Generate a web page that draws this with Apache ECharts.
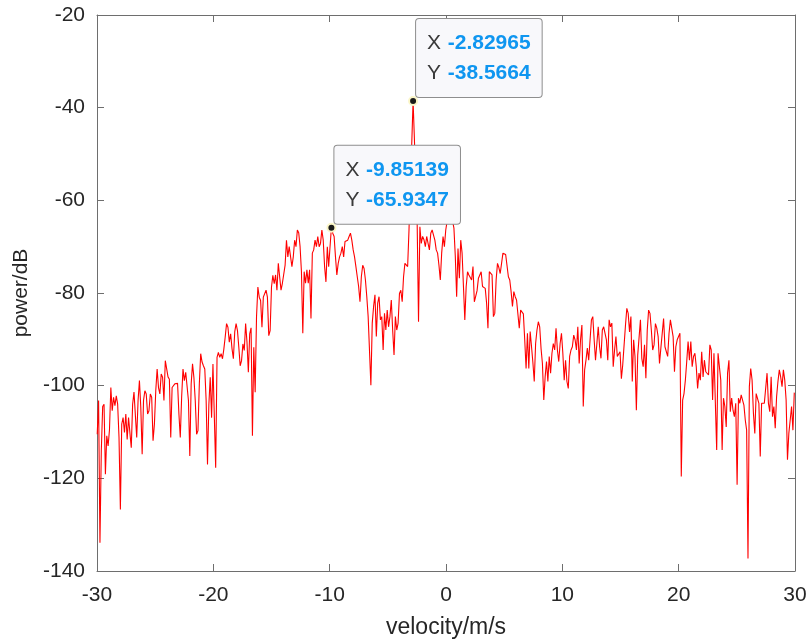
<!DOCTYPE html>
<html>
<head>
<meta charset="utf-8">
<script src="https://cdn.jsdelivr.net/npm/echarts@6/dist/echarts.min.js"></script>
<style>
  html, body { margin: 0; padding: 0; background: #fff; }
  #main { width: 810px; height: 641px; }
</style>
</head>
<body>
<div id="main"></div>
<script>
// velocity grid (m/s): evenly spaced bins
var velStart = -29.98038;
var velStep = 0.117029;

// power (dB) per velocity bin
var power = [
  -110.5,-103.2,-133.9,-114,-104.5,-104,-119.1,-110.8,-113,-109.5,
  -100.4,-105.4,-102.5,-104.3,-102.2,-104,-111.2,-126.7,-108.3,-106.9,
  -110.1,-106.1,-111.6,-106.9,-107.2,-113.4,-104,-101.4,-101.1,-111.2,
  -103.2,-98.9,-104.7,-114.8,-103.2,-101.1,-101.8,-106.1,-105.4,-101.8,
  -102.5,-111.9,-108.3,-101.1,-96.4,-100.4,-101.8,-97.5,-98.2,-103.2,
  -94.6,-94.2,-98.1,-98.6,-111.2,-100.4,-100,-99.6,-99.5,-99.5,
  -106.1,-111.2,-102.5,-96.4,-98.9,-97.1,-97.1,-103.2,-115.2,-99.6,
  -95.3,-98.2,-103.2,-110.5,-109.7,-99.6,-93.1,-94.9,-95.7,-96.4,
  -103.2,-117,-104,-98.2,-106.9,-95.3,-94.9,-117.7,-93.9,-92.8,
  -93.9,-93.1,-94.2,-92.1,-89.5,-86.6,-87.4,-90.6,-88.8,-92,
  -94.2,-88.4,-86.6,-88.1,-91.7,-95.7,-94.6,-91,-92.4,-86.6,
  -90.6,-97.1,-88.8,-87.5,-110.8,-91.7,-101.4,-85.2,-78.7,-80.9,
  -81.6,-87.4,-80.9,-81.2,-79.4,-80.9,-89.2,-88.1,-78.7,-76.2,
  -78,
  -76.1,-79.4,-73.6,-73.2,-79.4,-77.9,-78,-74,-68.6,-72.2,
  -70,-70,-74.3,-72.2,-68.6,-70,-66.4,-67,-70,-75.4,
  -88.7,-75.4,-77.9,-75,-77.9,-75,-85.5,-71.4,-70.7,-68.6,
  -70,-67.8,-70,-69.3,-66.4,-68.6,-74.3,-77.6,-70,-74.3,
  -70,-65.9347,-67.1,-67.8,-72.2,-76.1,-73.6,-72.2,-71.4,-70,
  -72.2,-68.9,-68.9,-68.6,-67.8,-67.1,-68.6,-70.7,-72.2,-74.3,
  -76.5,-78.6,-81.9,-76.5,-74,-74.7,-77.2,-80.8,-85.1,-85.1,
  -99.9,-86.5,-82.9,-80.4,-89.4,-82.2,-80.8,-85.8,-85.1,-92.3,
  -84.4,-88,-83.7,-87.3,-85.1,-81.5,-88,-93.4,-85.1,-88,
  -86.5,-80.1,-79.4,-81.9,-76.5,-73.6,-73.6,-74.3,-66.4,-56,
  -48,-38.5664,-47,-57.8,-65,-86.2,
  -65.7,-69.3,-67.8,-68.5,-70,-67.8,-69.3,-70.7,-67.1,-66.4,
  -67.5,-68.6,-70.7,-71.4,-74,-77.2,-71.4,-67.8,-70,-66.4,
  -64.5,-61,-58,-62,-64.5,-66,
  -72,-80.8,-70.4,-76.8,-68.6,-71.4,-78.6,-85.8,-78.6,-75.4,
  -76.1,-75.8,-77.2,-74.3,-81.9,-82.2,-79.5,-76.8,-76.1,-75.4,
  -78.6,-78.8,-79,-82.2,-87.6,-75.4,-75.8,-76.1,-85.1,-84.4,
  -77.2,-73.6,-74.5,-75.8,-76.1,-71.4,-71.7,-71.7,-71.8,-76.5,
  -77.2,-79.7,-82.9,-79.7,-80.8,-81.5,-81.5,-87.6,-83.7,-83.7,
  -84.5,-90.1,-96.3,-88.7,-96.3,-88.3,-91.6,-95,-99.1,-90.9,
  -88,-86.2,-87.3,-92,-95.2,-103.1,-98.1,-94.8,-99.1,-93.7,
  -97.3,-93,-90.9,-92.3,-87.6,-92.3,-94.8,-90.9,-88.7,-93,
  -98.8,-94.5,-99.1,-100.6,-93.7,-92.3,-91.6,-89.1,-90.1,-92.3,
  -87.3,-95.2,-90.1,-86.9,-104.5,-96.6,-94.5,-91.9,-94.5,-90.1,
  -85.8,-85.1,-90.1,-94.5,-90.9,-87.3,-91.6,-94.1,-88,-87.3,
  -86.9,-90.1,-94.5,-85.8,-87.3,-86.5,-95.9,-92.3,-89.4,-93.7,
  -93.7,-92.7,-98.5,-95.5,-91.2,-87,
  -83.3,-84.4,-88.4,-85.1,-99.1,-90.1,-93.7,-105.3,-93.4,-93,
  -85.8,-94.1,-95.9,-91.2,-98.4,-88,-83.7,-84.4,-88,-92.3,
  -91.2,-86.6,-87.6,-89.4,-95.2,-91.9,-91.6,-85.5,-91.6,-91.9,
  -93.7,-88.7,-85.8,-85.5,-89.4,-97,-91.6,-90.1,-89.8,-88.7,
  -119.6,-103.1,-101.7,-98.8,-94.8,-90.5,-94.5,-90.5,-95.9,-93.7,
  -93,-95.9,-100.6,-97.3,-98.8,-92.7,-98.1,-94.5,-97,-97.3,
  -97.7,-91.2,-92.3,-103.1,-93,-93.2,-113.9,-93,-93.4,-98.8,
  -113.9,-102.7,-104.5,-108.9,-97.3,-94.5,-105.6,-102.7,-105.3,-106.7,
  -103.8,-121.4,-102.7,-103.8,-102,-103.1,-104.2,-107.4,-109.6,-137.3,
  -100.2,-96.3,-98.8,-106,-110.3,-101.7,-102,-103.8,-115.3,-103.8,
  -103.5,-103.8,-103.5,-97.3,-103.8,-105.6,-98.1,-106.7,-104.5,-109.2,
  -102.4,-99.1,-96.6,-98.1,-100.2,-96.6,-98.8,-103.1,-116,-110.3,
  -107.4,-104.5,-109.6,-101.5
];

// data tips
var tipX = [-2.82965, -9.85139];
var tipY = [-38.5664, -65.9347];

// axes
var xTicks = [-30, -20, -10, 0, 10, 20, 30];
var yTicks = [-140, -120, -100, -80, -60, -40, -20];

var lineData = [];
for (var i = 0; i < power.length; i++) {
  lineData.push([+(velStart + i * velStep).toFixed(5), power[i]]);
}

var tipData = [];
for (var k = 0; k < tipX.length; k++) {
  tipData.push({ coord: [tipX[k], tipY[k]], tx: tipX[k], ty: tipY[k] });
}

var font = '"Liberation Sans", Arial, Helvetica, sans-serif';
var axisColor = '#6e6e6e';
var textColor = '#262626';

var chart = echarts.init(document.getElementById('main'));

function baseAxis(ticks) {
  return {
    type: 'value',
    min: ticks[0],
    max: ticks[ticks.length - 1],
    interval: ticks[1] - ticks[0],
    splitLine: { show: false },
    axisLine: { show: true, onZero: false, lineStyle: { color: axisColor, width: 1 } },
    axisTick: { show: true, inside: true, length: 7, lineStyle: { color: axisColor } }
  };
}

var xBottom = baseAxis(xTicks);
xBottom.position = 'bottom';
xBottom.name = 'velocity/m/s';
xBottom.nameLocation = 'middle';
xBottom.nameGap = 45;
xBottom.nameTextStyle = { color: textColor, fontFamily: font, fontSize: 23 };
xBottom.axisLabel = { color: textColor, fontFamily: font, fontSize: 21, margin: 14 };

var xTop = baseAxis(xTicks);
xTop.position = 'top';
xTop.axisLabel = { show: false };

var yLeft = baseAxis(yTicks);
yLeft.position = 'left';
yLeft.name = 'power/dB';
yLeft.nameLocation = 'middle';
yLeft.nameGap = 64;
yLeft.nameRotate = 90;
yLeft.nameTextStyle = { color: textColor, fontFamily: font, fontSize: 21 };
yLeft.axisLabel = { color: textColor, fontFamily: font, fontSize: 21, margin: 12 };

var yRight = baseAxis(yTicks);
yRight.position = 'right';
yRight.axisLabel = { show: false };

var option = {
  animation: false,
  backgroundColor: '#ffffff',
  grid: { left: 97, right: 15, top: 15, bottom: 70, containLabel: false, outerBoundsMode: 'none' },
  xAxis: [xBottom, xTop],
  yAxis: [yLeft, yRight],
  series: [
    {
      type: 'line',
      xAxisIndex: 0,
      yAxisIndex: 0,
      data: lineData,
      showSymbol: false,
      symbol: 'none',
      lineStyle: { color: '#ff0000', width: 1.1 },
      markPoint: {
        symbol: 'circle',
        symbolSize: 8,
        itemStyle: { color: '#1a1a1a', borderColor: '#fbf6c8', borderWidth: 2 },
        label: {
          show: true,
          position: [8, 1],
          align: 'left',
          verticalAlign: 'bottom',
          backgroundColor: '#f8f8fb',
          borderColor: '#8e8e8e',
          borderWidth: 1,
          borderRadius: 3,
          padding: [9, 11, 9, 11],
          formatter: function (p) {
            var d = p.data;
            return '{k|X}  {v|' + d.tx + '}\n{k|Y}  {v|' + d.ty + '}';
          },
          rich: {
            k: { color: '#3a3a3a', fontFamily: font, fontSize: 21, lineHeight: 30 },
            v: { color: '#0f96f0', fontFamily: font, fontSize: 21, fontWeight: 'bold', lineHeight: 30 }
          }
        },
        data: tipData
      }
    }
  ]
};

chart.setOption(option);
</script>
</body>
</html>
